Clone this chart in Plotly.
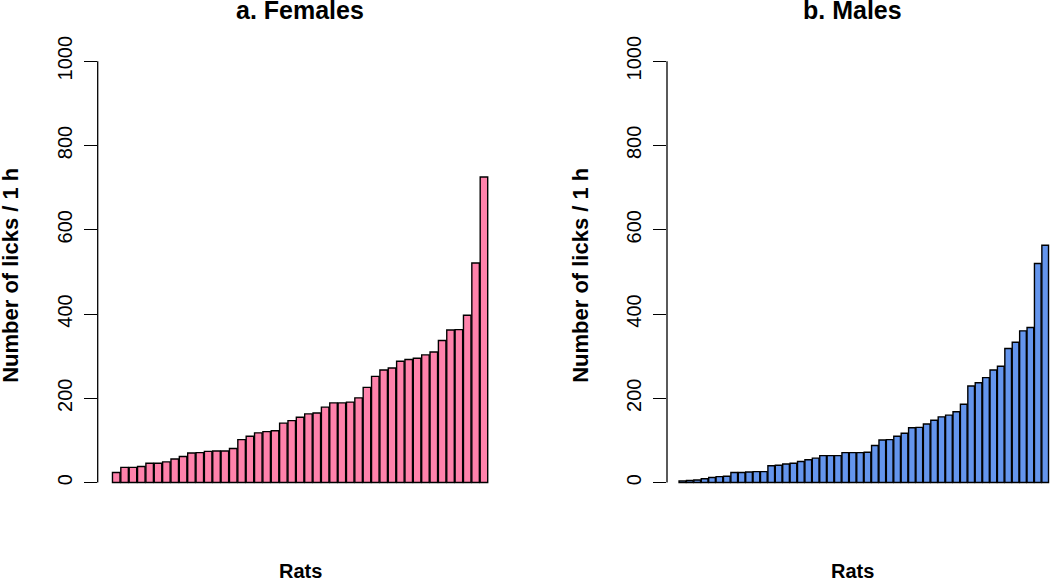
import plotly.graph_objects as go

# Number of licks per 1 h, per rat (sorted)
females = [24, 36, 36, 38, 46, 46, 49, 56, 62, 70, 71, 74, 75, 75, 81, 102, 110, 118,
           121, 123, 141, 147, 155, 163, 165, 179, 189, 189, 191, 201, 226, 252, 267,
           272, 288, 292, 295, 303, 310, 337, 362, 363, 397, 521, 725]
males = [4, 5, 6, 9, 12, 14, 15, 24, 24, 25, 26, 26, 40, 41, 44, 46, 50, 54, 58, 64,
         64, 64, 71, 71, 71, 72, 88, 101, 102, 110, 117, 130, 131, 139, 148, 156, 160,
         168, 186, 229, 237, 249, 267, 276, 318, 333, 360, 368, 520, 563]
y_ticks = [0, 200, 400, 600, 800, 1000]
titles = ["a. Females", "b. Males"]
x_label = "Rats"
y_label = "Number of licks / 1 h"

FONT = "Liberation Sans, Arial, Helvetica, sans-serif"
W, H = 1050, 580

fig = go.Figure()
fig.add_trace(go.Bar(x=list(range(1, len(females) + 1)), y=females,
                     marker=dict(color="#FF82AB", line=dict(color="black", width=1.4)),
                     xaxis="x", yaxis="y", showlegend=False))
fig.add_trace(go.Bar(x=list(range(1, len(males) + 1)), y=males,
                     marker=dict(color="#6495ED", line=dict(color="black", width=1.4)),
                     xaxis="x2", yaxis="y2", showlegend=False))

ydom = [1 - 498.3 / H, 1 - 36.8 / H]
yax = dict(range=[-40, 1040], domain=ydom, tickmode="array", tickvals=y_ticks,
           ticktext=[str(v) for v in y_ticks], ticks="outside", ticklen=13,
           tickwidth=1.3, tickcolor="black", showline=False, showgrid=False,
           zeroline=False, tickangle=-90, ticklabelstandoff=4,
           tickfont=dict(family=FONT, size=20, color="black"))
xax = dict(showticklabels=False, ticks="", showline=False, showgrid=False, zeroline=False)

fig.update_layout(
    width=W, height=H, margin=dict(l=0, r=0, t=0, b=0),
    paper_bgcolor="white", plot_bgcolor="white", bargap=0.1,
    xaxis=dict(xax, domain=[97.7 / W, 502.5 / W], range=[-1.217, 47.22], anchor="y"),
    yaxis=dict(yax, anchor="x"),
    xaxis2=dict(xax, domain=[667 / W, 1.0], range=[-1.079, 50.65], anchor="y2"),
    yaxis2=dict(yax, anchor="x2"),
)

# axis lines spanning only the tick range (R style)
for xr, yr in [("x domain", "y"), ("x2 domain", "y2")]:
    fig.add_shape(type="line", xref=xr, yref=yr, x0=0, x1=0, y0=0, y1=1000,
                  line=dict(color="black", width=1.3))

centers = [300 / W, 852 / W]
axis_x = [11 / W, 581 / W]
for i in range(2):
    fig.add_annotation(text="<b>" + titles[i] + "</b>", x=centers[i], y=1 - 2.5 / H,
                       xref="paper", yref="paper", showarrow=False,
                       font=dict(family=FONT, size=25, color="black"),
                       xanchor="center", yanchor="middle", borderpad=0)
    fig.add_annotation(text="<b>" + x_label + "</b>", x=centers[i], y=1 - 570.7 / H,
                       xref="paper", yref="paper", showarrow=False,
                       font=dict(family=FONT, size=20, color="black"),
                       xanchor="center", yanchor="middle", borderpad=0)
    fig.add_annotation(text="<b>" + y_label + "</b>", x=axis_x[i], y=1 - 271.6 / H,
                       xref="paper", yref="paper", showarrow=False, textangle=-90,
                       font=dict(family=FONT, size=22, color="black"),
                       xanchor="center", yanchor="middle", borderpad=0)

fig.write_html("out.html", config={"displayModeBar": False},
               post_script="document.body.style.margin='0';document.body.style.overflow='hidden';")
